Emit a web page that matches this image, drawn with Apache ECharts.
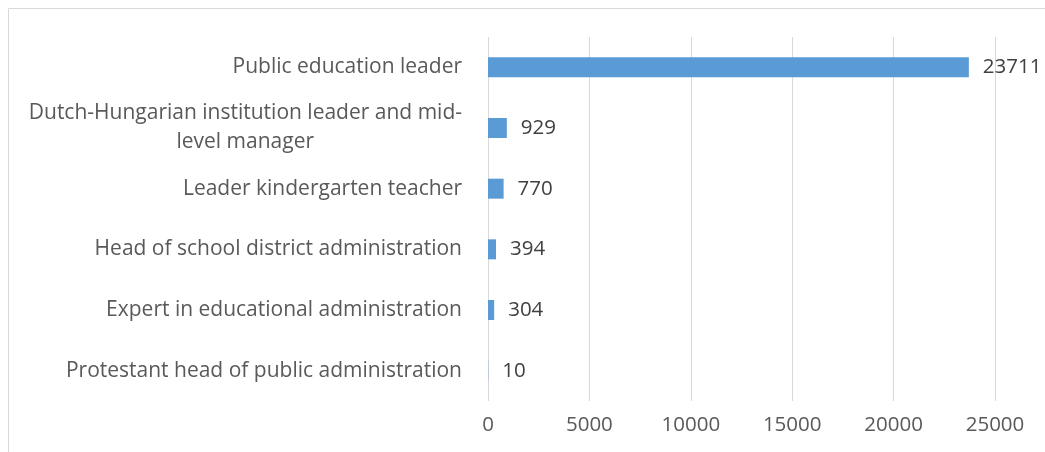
<!DOCTYPE html>
<html>
<head>
<meta charset="utf-8">
<script src="https://cdn.jsdelivr.net/npm/echarts@6/dist/echarts.min.js"></script>
<style>
  html, body { margin: 0; padding: 0; background: #fff; }
  #chart { width: 1045px; height: 452px; }
</style>
</head>
<body>
<div id="chart"></div>
<script>
const categories = [
  'Public education leader',
  'Dutch-Hungarian institution leader and mid-level manager',
  'Leader kindergarten teacher',
  'Head of school district administration',
  'Expert in educational administration',
  'Protestant head of public administration'
];
const counts = [23711, 929, 770, 394, 304, 10];
const xTicks = { min: 0, max: 25000, interval: 5000 };

const chart = echarts.init(document.getElementById('chart'));

const textFont = '"Open Sans", "Liberation Sans", sans-serif';
const fs = 20.5;
const catFs = 21;

chart.setOption({
  backgroundColor: '#ffffff',
  animation: false,
  graphic: [{
    type: 'rect',
    shape: { x: 8.5, y: 8.5, width: 1100, height: 500 },
    style: { fill: 'none', stroke: '#d9d9d9', lineWidth: 1 },
    silent: true
  }],
  grid: { left: 488, right: 50, top: 37, bottom: 51, containLabel: false },
  xAxis: {
    type: 'value',
    min: xTicks.min,
    max: xTicks.max,
    interval: xTicks.interval,
    axisLine: { show: false },
    axisTick: { show: false },
    splitLine: { show: true, lineStyle: { color: '#d9d9d9', width: 1 } },
    axisLabel: {
      color: '#595959', fontSize: fs, fontFamily: textFont, margin: 14,
      formatter: function (v) { return String(v); }
    }
  },
  yAxis: {
    type: 'category',
    inverse: true,
    data: categories,
    axisLine: { show: false },
    axisTick: { show: false },
    axisLabel: {
      color: '#595959',
      fontSize: catFs,
      fontFamily: textFont,
      margin: 26,
      lineHeight: 29,
      formatter: function (name) {
        if (name.indexOf('mid-level') >= 0) {
          const parts = name.split('mid-level');
          return '{a|' + parts[0] + 'mid-}\n{b|level' + parts[1] + '}';
        }
        return name;
      },
      rich: {
        a: { color: '#595959', fontSize: catFs, fontFamily: textFont, lineHeight: 29 },
        b: { color: '#595959', fontSize: catFs, fontFamily: textFont, lineHeight: 29, padding: [0, 148, 0, 0] }
      }
    }
  },
  series: [{
    type: 'bar',
    data: counts,
    barWidth: 20,
    itemStyle: { color: '#5b9bd5' },
    label: {
      show: true,
      position: 'right',
      distance: 14,
      color: '#404040',
      fontSize: fs,
      fontFamily: textFont
    }
  }]
});

window.addEventListener('resize', () => chart.resize());
</script>
</body>
</html>
